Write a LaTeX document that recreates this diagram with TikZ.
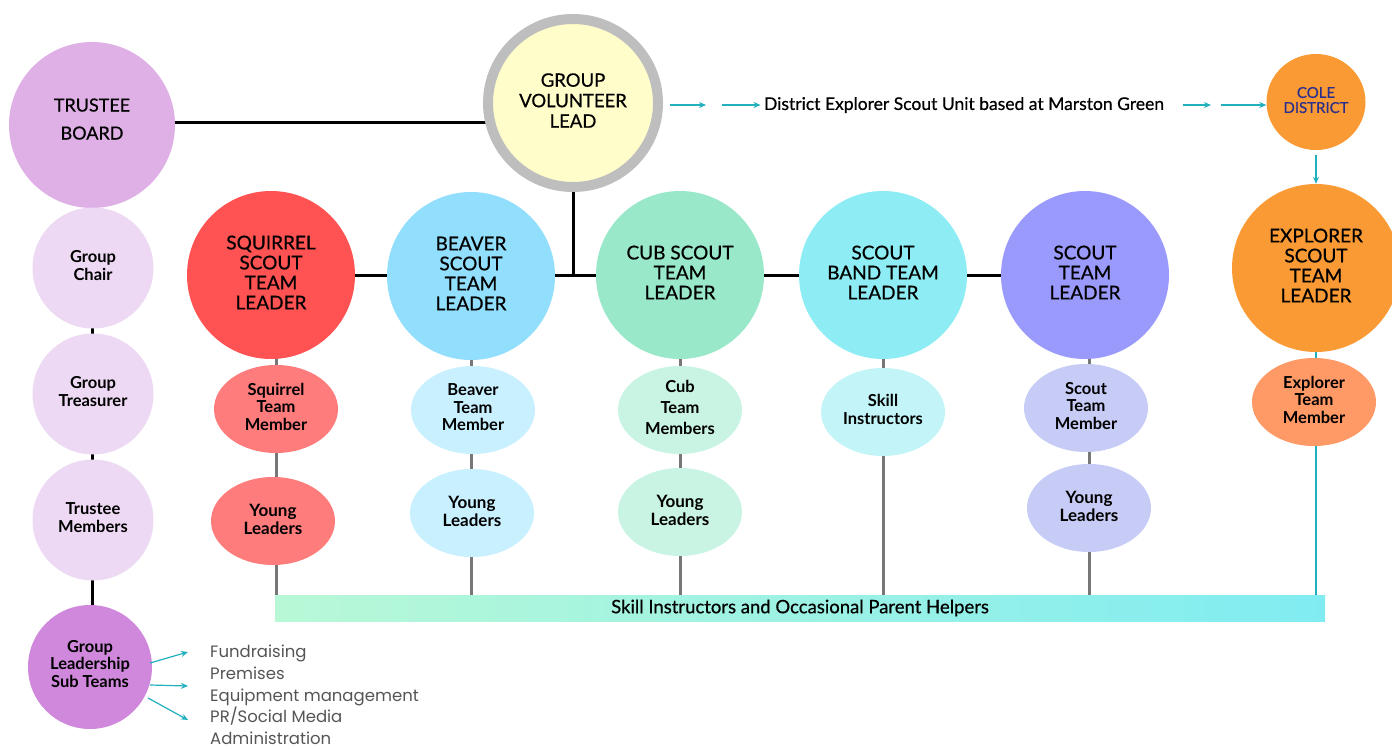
\documentclass[tikz,border=0pt]{standalone}
\usepackage{fontspec}
\setmainfont{Lato}
\newfontfamily\capfont[FakeBold=0.6]{Lato}
\newfontfamily\listfont{Poppins}
\usetikzlibrary{shapes.geometric,arrows.meta,backgrounds}
\definecolor{trustee}{HTML}{DFB0E6}
\definecolor{lilac}{HTML}{EDD9F3}
\definecolor{glst}{HTML}{CF88DB}
\definecolor{gvlfill}{HTML}{FFFDCA}
\definecolor{gvlring}{HTML}{BEBEBE}
\definecolor{squirrel}{HTML}{FF5252}
\definecolor{squirrellt}{HTML}{FF7C7C}
\definecolor{beaver}{HTML}{92DFFD}
\definecolor{beaverlt}{HTML}{C8F0FF}
\definecolor{cub}{HTML}{98E8C9}
\definecolor{cublt}{HTML}{C9F3E2}
\definecolor{band}{HTML}{8EEDF4}
\definecolor{bandlt}{HTML}{C3F5F8}
\definecolor{scout}{HTML}{9A9AFC}
\definecolor{scoutlt}{HTML}{C7CCF6}
\definecolor{explorer}{HTML}{FA9A35}
\definecolor{explorerlt}{HTML}{FF9966}
\definecolor{navy}{HTML}{2B2F8C}
\definecolor{tealc}{HTML}{22B0BE}
\definecolor{barleft}{HTML}{B8F8D6}
\definecolor{barright}{HTML}{80ECF2}
\definecolor{stem}{HTML}{777777}
\definecolor{listgray}{HTML}{555555}
\tikzset{
  leader/.style={ellipse, inner sep=0pt, minimum width=168pt, minimum height=168pt,
    align=center, text depth=5pt, font=\capfont\fontsize{19}{20}\selectfont},
  member/.style={ellipse, inner sep=0pt, minimum width=124pt, minimum height=88pt,
    align=center, text depth=5pt, font=\bfseries\fontsize{16.5}{17.5}\selectfont},
  young/.style={member, font=\bfseries\fontsize{17}{17.5}\selectfont, text depth=3pt},
  boardc/.style={ellipse, inner sep=0pt, minimum width=121pt, minimum height=121pt,
    fill=lilac, align=center, text depth=5pt, font=\bfseries\fontsize{16.5}{18}\selectfont},
  blkline/.style={line width=3pt, black},
  stemline/.style={line width=3pt, stem},
  tarrow/.style={tealc, line width=1.2pt, -{Stealth[length=7pt,width=6pt]}},
}
\begin{document}
\begin{tikzpicture}[x=1pt,y=-1pt]
\useasboundingbox (0,0) rectangle (1392,749);
% top row
\node[ellipse, inner sep=0pt, minimum width=166pt, minimum height=166pt, fill=trustee,
  align=center, text depth=12pt, font=\capfont\fontsize{18}{28}\selectfont] (tb) at (92,125) {TRUSTEE\\BOARD};
\node[ellipse, inner sep=0pt, minimum width=170pt, minimum height=168pt, fill=gvlfill,
  draw=gvlring, line width=10pt, align=center, text depth=5pt,
  font=\capfont\fontsize{18.5}{20.5}\selectfont] (gvl) at (573,103) {GROUP\\VOLUNTEER\\LEAD};
\node[font=\capfont\fontsize{17.5}{20}\selectfont] (dist) at (964,105)
  {District Explorer Scout Unit based at Marston Green};
\node[ellipse, inner sep=0pt, minimum width=99pt, minimum height=96pt, fill=explorer,
  text=navy, align=center, text depth=4pt, font=\capfont\fontsize{15}{15}\selectfont] (cole) at (1316,102) {COLE\\DISTRICT};
\coordinate (a1s) at (670,105);
\coordinate (a1e) at (706,105);
\coordinate (a2s) at (722,105);
\coordinate (a3s) at (1183,105);
\coordinate (a3e) at (1211,105);
\coordinate (a4s) at (1221,105);
% left column
\node[boardc] (chair) at (93,268) {Group\\Chair};
\node[boardc] (treas) at (93,394) {Group\\Treasurer};
\node[boardc] (tmem) at (93,520) {Trustee\\Members};
\node[ellipse, inner sep=0pt, minimum width=124pt, minimum height=124pt, fill=glst,
  align=center, text depth=7pt, font=\bfseries\fontsize{16.5}{17.5}\selectfont] (gl) at (90,667) {Group\\Leadership\\Sub Teams};
\node[anchor=north west, align=left, text=listgray, inner sep=0pt,
  font=\listfont\fontsize{16.5}{21.7}\selectfont] (list) at (210,645)
  {Fundraising\\Premises\\Equipment management\\PR/Social Media\\Administration};
\coordinate (l1) at (188,652);
\coordinate (l2) at (188,686);
\coordinate (l3) at (188,720);
% leaders
\node[leader, fill=squirrel] (sq) at (271,275) {SQUIRREL\\SCOUT\\TEAM\\LEADER};
\node[leader, fill=beaver] (bv) at (471,276) {BEAVER\\SCOUT\\TEAM\\LEADER};
\node[leader, fill=cub] (cb) at (680,275) {CUB SCOUT\\TEAM\\LEADER};
\node[leader, fill=band] (bd) at (883,275) {SCOUT\\BAND TEAM\\LEADER};
\node[leader, fill=scout] (sc) at (1085,275) {SCOUT\\TEAM\\LEADER};
\node[leader, fill=explorer] (ex) at (1316,268) {EXPLORER\\SCOUT\\TEAM\\LEADER};
% members
\node[member, fill=squirrellt] (sqm) at (276,409) {Squirrel\\Team\\Member};
\node[member, fill=beaverlt] (bvm) at (473,410) {Beaver\\Team\\Member};
\node[member, fill=cublt, font=\bfseries\fontsize{16.5}{21}\selectfont] (cbm) at (680,410) {Cub\\Team\\Members};
\node[member, fill=bandlt] (bdm) at (883,412) {Skill\\Instructors};
\node[member, fill=scoutlt] (scm) at (1086,408) {Scout\\Team\\Member};
\node[member, fill=explorerlt] (exm) at (1314,402) {Explorer\\Team\\Member};
% young leaders
\node[young, fill=squirrellt] (sqy) at (273,521) {Young\\Leaders};
\node[young, fill=beaverlt] (bvy) at (472,513) {Young\\Leaders};
\node[young, fill=cublt] (cby) at (680,512) {Young\\Leaders};
\node[young, fill=scoutlt] (scy) at (1089,508) {Young\\Leaders};
% bar
\node[rectangle, inner sep=0pt, minimum width=1050pt, minimum height=26pt,
  left color=barleft, right color=barright, font=\capfont\fontsize{18.5}{18}\selectfont] (bar) at (800,608)
  {Skill Instructors and Occasional Parent Helpers};
% connectors behind
\begin{scope}[on background layer]
  \draw[blkline] (tb.center |- 0,123) -- (gvl.center |- 0,123);
  \draw[blkline] (gvl.center) -- (gvl.center |- cb.center);
  \draw[blkline] (sq.center) -- (sc.center);
  \draw[blkline] (tb.center) -- (tb.center |- gl.center);
  \draw[stemline] (sq.center -| sqm.center) -- (sqm.center |- bar.north);
  \draw[stemline] (bv.center) -- (bv.center |- bar.north);
  \draw[stemline] (cb.center) -- (cb.center |- bar.north);
  \draw[stemline] (bd.center) -- (bd.center |- bar.north);
  \draw[stemline] (sc.center -| scy.center) -- (scy.center |- bar.north);
  \draw[tealc, line width=1.5pt] (ex.center) -- (ex.center |- bar.north);
\end{scope}
% arrows
\draw[tarrow] (a1s) -- (a1e);
\draw[tarrow] (a2s) -- (dist.west);
\draw[tarrow] (a3s) -- (a3e);
\draw[tarrow] (a4s) -- (a4s -| cole.west);
\draw[tarrow] (cole.south) ++(0,5) -- (ex.north);
\draw[tarrow] (gl.center) ++(60,-4) -- (l1);
\draw[tarrow] (gl.center) ++(60,18) -- (l2);
\draw[tarrow] (gl.center) ++(58,31) -- (l3);
\end{tikzpicture}
\end{document}
